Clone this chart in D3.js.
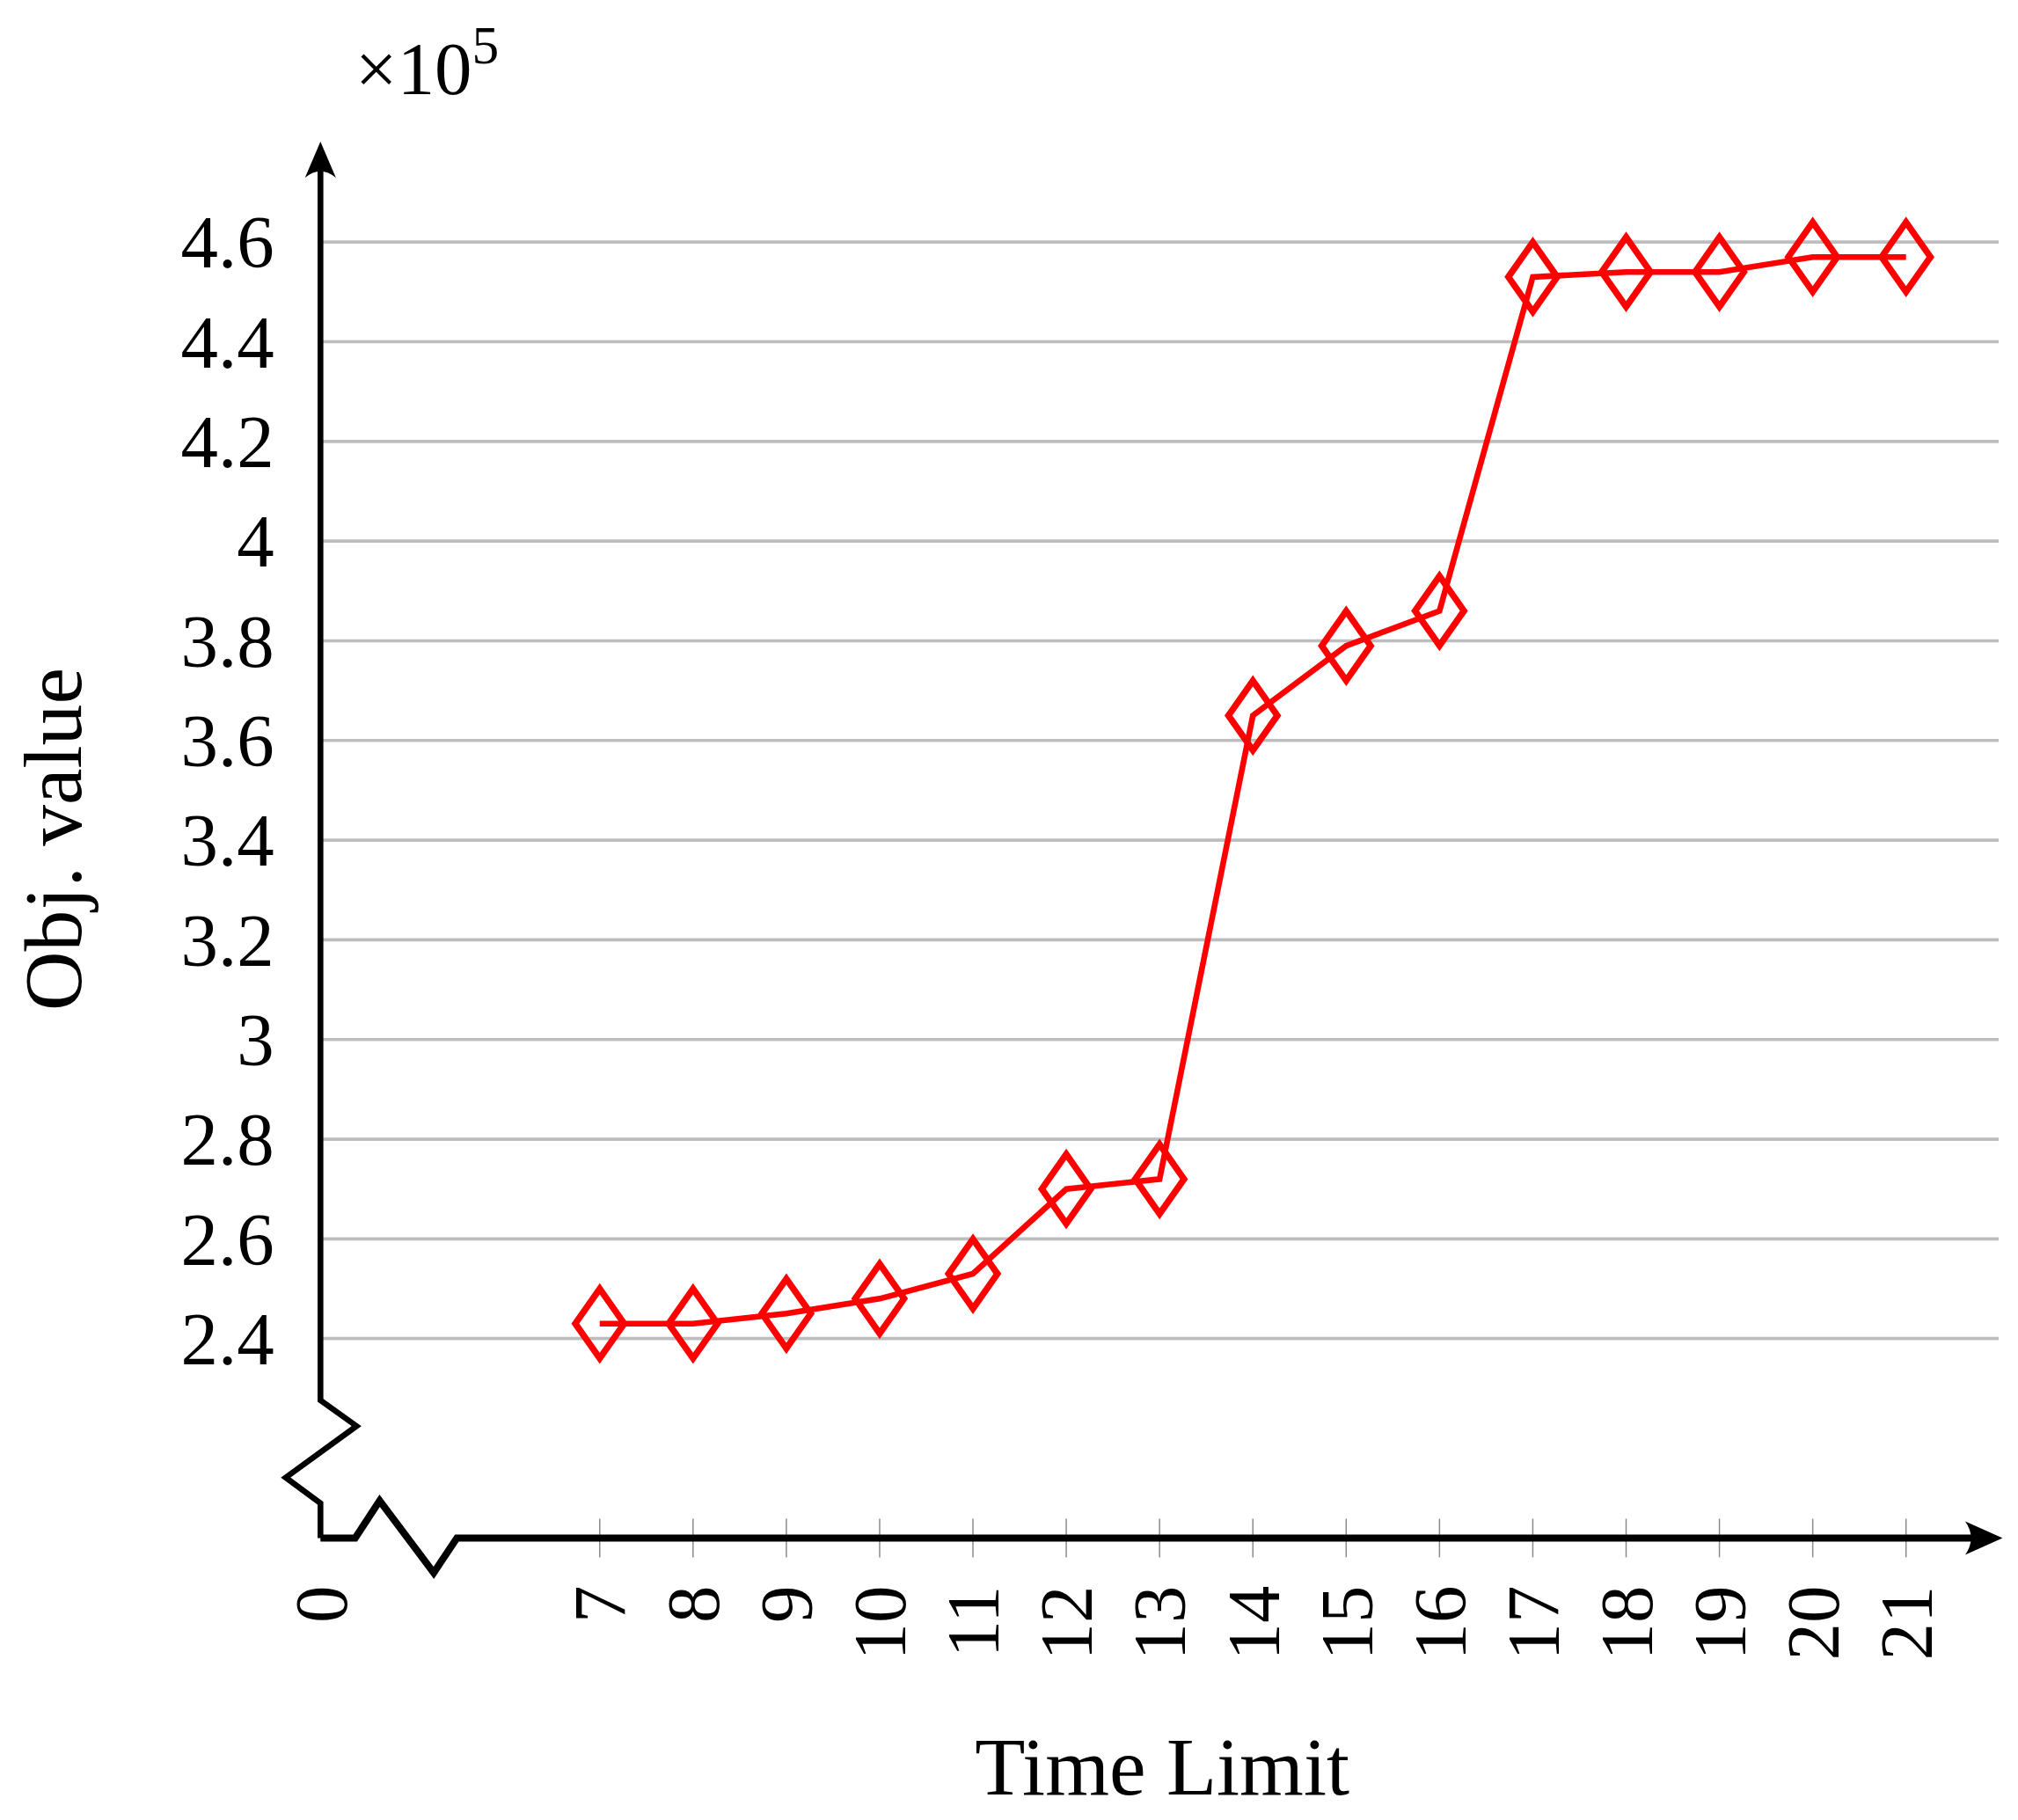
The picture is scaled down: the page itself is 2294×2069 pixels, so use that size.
<!DOCTYPE html>
<html><head><meta charset="utf-8">
<script src="https://cdn.jsdelivr.net/npm/d3@7"></script>
<style>body{margin:0;background:#fff}text{font-family:"Liberation Serif","DejaVu Serif",serif}</style>
</head><body>
<svg id="c" width="2294" height="2069" viewBox="0 0 1568 1414"></svg>
<script>
var times = [7, 8, 9, 10, 11, 12, 13, 14, 15, 16, 17, 18, 19, 20, 21];
var objValues = [2.43, 2.43, 2.45, 2.48, 2.53, 2.70, 2.72, 3.65, 3.79, 3.86, 4.53, 4.54, 4.54, 4.57, 4.57];
var yTicks = [2.4, 2.6, 2.8, 3, 3.2, 3.4, 3.6, 3.8, 4, 4.2, 4.4, 4.6];
var xTicks = [0].concat(times);

var svg = d3.select("#c");
var x = d3.scaleLinear().domain([7, 21]).range([466, 1481]);
var xPos = function(d) { return d === 0 ? 249 : x(d); };
var y = d3.scaleLinear().domain([2.4, 4.6]).range([1040, 188]);

// grid
svg.selectAll(".grid").data(yTicks).enter().append("line")
  .attr("x1", 249).attr("x2", 1553)
  .attr("y1", function(d) { return y(d); }).attr("y2", function(d) { return y(d); })
  .attr("stroke", "#bdbdbd").attr("stroke-width", 2.5);

svg.selectAll(".ylab").data(yTicks).enter().append("text")
  .attr("x", 213).attr("y", function(d) { return y(d) + 20; })
  .attr("text-anchor", "end").attr("font-size", 58)
  .text(function(d) { return d; });

// x tick marks
svg.selectAll(".xt").data(times).enter().append("line")
  .attr("x1", function(d) { return x(d); }).attr("x2", function(d) { return x(d); })
  .attr("y1", 1180).attr("y2", 1210).attr("stroke", "#888").attr("stroke-width", 1);

svg.selectAll(".xlab").data(xTicks).enter().append("text")
  .attr("transform", function(d) { return "translate(" + (xPos(d) + 20) + ",1232) rotate(-90)"; })
  .attr("text-anchor", "end").attr("font-size", 58)
  .text(function(d) { return d; });

// axes with breaks
var line = d3.line();
svg.append("path")
  .attr("d", line([[249, 1195], [249, 1168], [222, 1148], [277, 1108], [249, 1088], [249, 120]]))
  .attr("fill", "none").attr("stroke", "#000").attr("stroke-width", 4.5);
svg.append("path")
  .attr("d", line([[249, 1195], [276, 1195], [295, 1166], [337, 1222], [355, 1195], [1545, 1195]]))
  .attr("fill", "none").attr("stroke", "#000").attr("stroke-width", 5.5);
svg.append("path").attr("d", "M249,110 L237,138 Q249,128 261,138 Z").attr("fill", "#000");
svg.append("path").attr("d", "M1556,1195 L1527,1182 Q1536,1195 1527,1208 Z").attr("fill", "#000");

// series
var pts = times.map(function(t, i) { return [x(t), y(objValues[i])]; });
svg.append("path").attr("d", line(pts)).attr("fill", "none")
  .attr("stroke", "#ff0000").attr("stroke-width", 4.5);
svg.selectAll(".mk").data(pts).enter().append("path")
  .attr("d", function(p) { return "M" + p[0] + "," + (p[1] - 27) + "L" + (p[0] + 19) + "," + p[1] + "L" + p[0] + "," + (p[1] + 27) + "L" + (p[0] - 19) + "," + p[1] + "Z"; })
  .attr("fill", "none").attr("stroke", "#ff0000").attr("stroke-width", 5);

// labels
svg.append("text").attr("x", 276).attr("y", 73).attr("font-size", 58)
  .html('×10<tspan dy="-24" font-size="42">5</tspan>');
svg.append("text").attr("transform", "translate(63,652) rotate(-90)")
  .attr("text-anchor", "middle").attr("font-size", 64).text("Obj. value");
svg.append("text").attr("x", 903).attr("y", 1394)
  .attr("text-anchor", "middle").attr("font-size", 64).text("Time Limit");
</script>
</body></html>
